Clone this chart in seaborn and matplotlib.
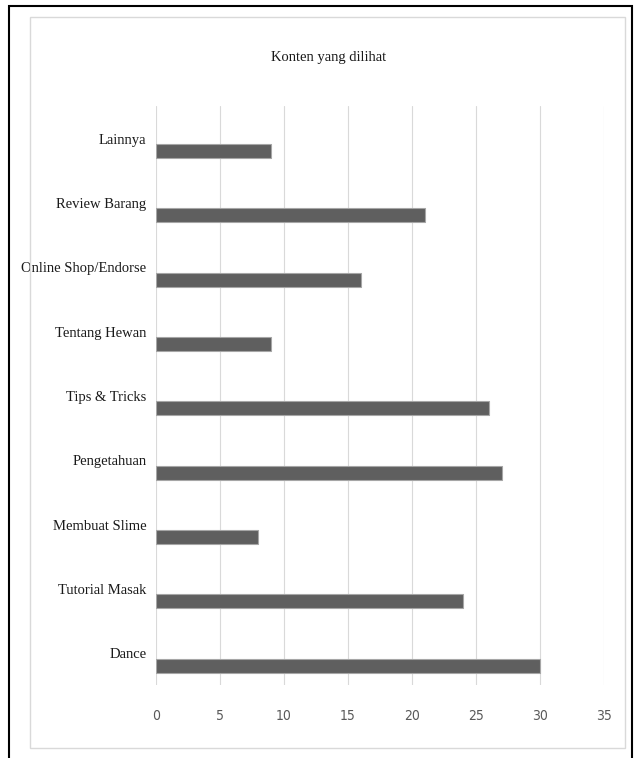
import numpy as np
import matplotlib.pyplot as plt
import seaborn as sns
from matplotlib.patches import Rectangle

# data
categories = ['Lainnya', 'Review Barang', 'Online Shop/Endorse', 'Tentang Hewan',
              'Tips & Tricks', 'Pengetahuan', 'Membuat Slime', 'Tutorial Masak',
              'Dance']
values = [9, 21, 16, 9, 26, 27, 8, 24, 30]
x_ticks = [0, 5, 10, 15, 20, 25, 30, 35]
title = 'Konten yang dilihat'

sns.set_style('white')
serif = ['Liberation Serif', 'DejaVu Serif']
narrow = ['Liberation Sans Narrow', 'DejaVu Sans']

W, H = 635, 758
fig = plt.figure(figsize=(W / 100, H / 100), dpi=100)
ax = fig.add_axes([156 / W, 1 - 685 / H, (604 - 156) / W, (685 - 106) / H])

sns.barplot(x=values, y=categories, color='#5f5f5f', saturation=1,
            width=0.22, edgecolor='#a6a6a6', linewidth=0.8, ax=ax, zorder=3)

# labels sit above the bar (Excel-style offset)
n = len(categories)
ax.set_yticks(np.arange(n) - 0.19)
ax.set_yticklabels(categories, family=serif, fontsize=10.5, color='#1a1a1a')
ax.set_ylim(n - 0.7, -0.7)

ax.set_xlim(0, 35)
ax.set_xticks(x_ticks)
ax.set_xticklabels([str(t) for t in x_ticks], family=narrow, fontsize=10,
                   fontstretch='condensed', color='#595959')
ax.tick_params(axis='y', length=0, pad=7)
ax.tick_params(axis='x', length=0, pad=17)
ax.set_xlabel('')
ax.set_ylabel('')

ax.grid(axis='x', color='#d9d9d9', linewidth=0.8, zorder=0)
ax.grid(axis='y', visible=False)
ax.set_axisbelow(True)
for s in ax.spines.values():
    s.set_visible(False)

fig.text(329 / W, 1 - 57 / H, title, family=serif, fontsize=10.5,
         color='#1a1a1a', ha='center', va='center')

# chart area frame and outer black border
fig.add_artist(Rectangle((30 / W, 1 - 748 / H), (625 - 30) / W, (748 - 17) / H,
                         transform=fig.transFigure, fill=False,
                         edgecolor='#d9d9d9', linewidth=1))
fig.add_artist(Rectangle((9 / W, -0.05), (632 - 9) / W, 1.05 - 6 / H,
                         transform=fig.transFigure, fill=False,
                         edgecolor='#000000', linewidth=1.5))

fig.savefig('out.png', dpi=100)
